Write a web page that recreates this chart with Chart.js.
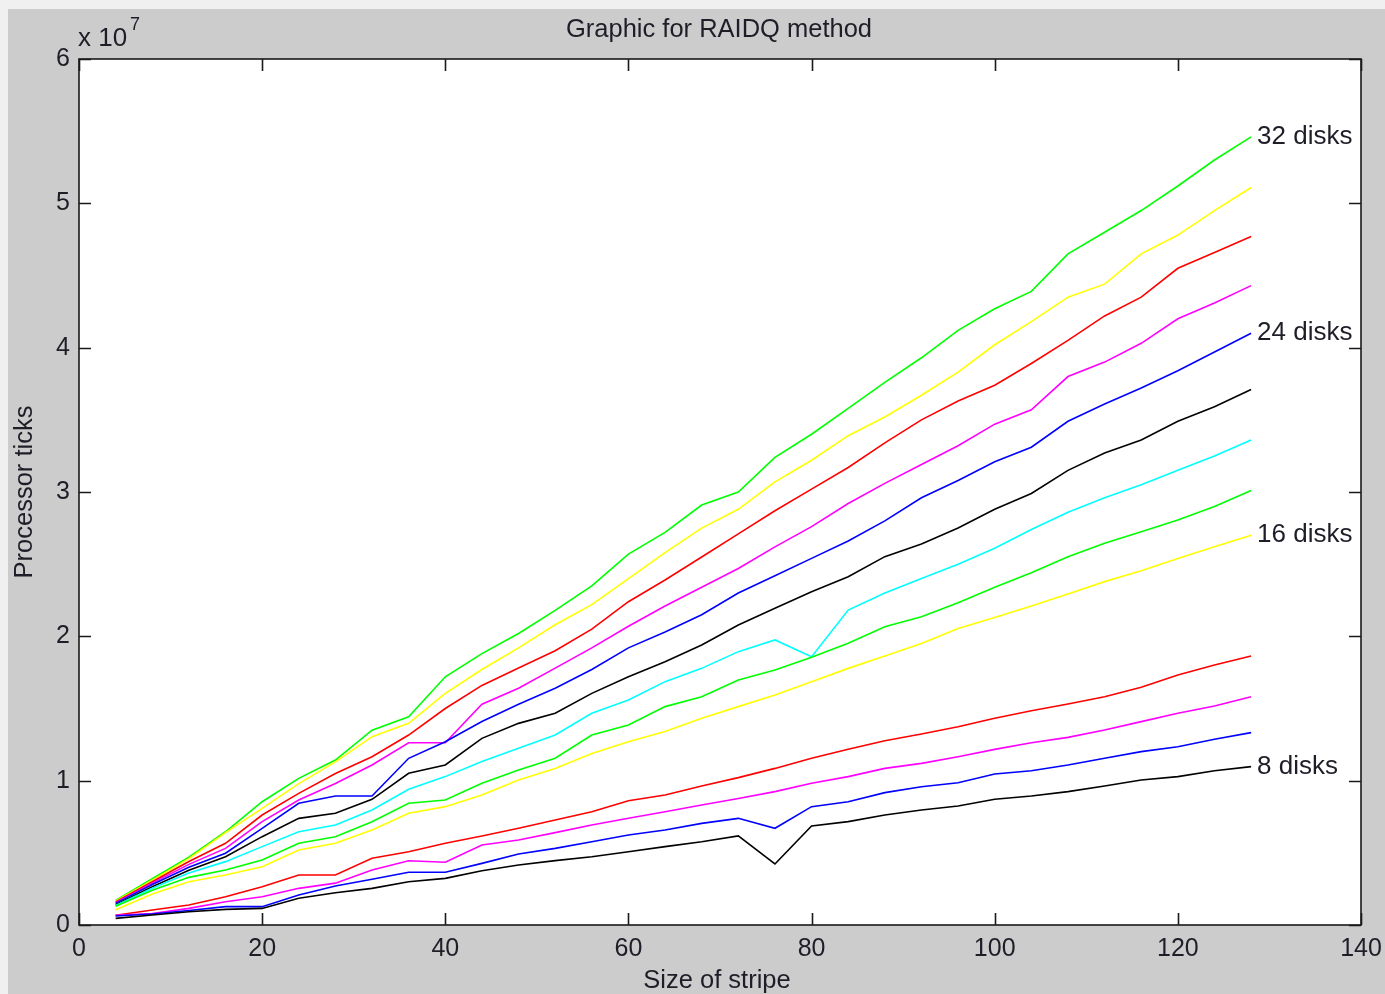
<!DOCTYPE html>
<html><head><meta charset="utf-8">
<script src="https://cdn.jsdelivr.net/npm/chart.js@4.4.1/dist/chart.umd.min.js"></script>
<style>
html,body{margin:0;padding:0;background:#f0f0f0;width:1385px;height:994px;overflow:hidden}
#panel{position:absolute;left:8px;top:9px;width:1377px;height:985px;background:#cccccc}
#c{position:absolute;left:0;top:0}
</style></head><body>
<div id="panel"></div>
<canvas id="c" width="1385" height="994"></canvas>
<script>
// ---- data (values in units of 10^7 processor ticks) ----
const stripeSizes = [4,8,12,16,20,24,28,32,36,40,44,48,52,56,60,64,68,72,76,80,84,88,92,96,100,104,108,112,116,120,124,128];
const disks8  = [0.046,0.069,0.092,0.108,0.115,0.185,0.224,0.254,0.300,0.323,0.376,0.416,0.446,0.473,0.508,0.543,0.577,0.617,0.423,0.686,0.716,0.762,0.797,0.824,0.871,0.894,0.924,0.963,1.005,1.028,1.069,1.097];
const disks10 = [0.062,0.076,0.100,0.127,0.127,0.208,0.270,0.317,0.365,0.365,0.427,0.492,0.531,0.577,0.624,0.658,0.704,0.739,0.670,0.820,0.854,0.917,0.958,0.986,1.046,1.069,1.109,1.155,1.201,1.235,1.287,1.333];
const disks12 = [0.067,0.080,0.115,0.161,0.196,0.254,0.290,0.381,0.445,0.435,0.554,0.589,0.640,0.693,0.739,0.785,0.831,0.877,0.924,0.982,1.028,1.085,1.120,1.166,1.217,1.263,1.300,1.351,1.409,1.467,1.517,1.582];
const disks14 = [0.067,0.104,0.139,0.196,0.265,0.346,0.346,0.462,0.508,0.566,0.617,0.670,0.727,0.785,0.861,0.901,0.963,1.021,1.085,1.155,1.217,1.277,1.323,1.374,1.432,1.485,1.531,1.582,1.647,1.732,1.801,1.864];
const disks16 = [0.105,0.215,0.300,0.346,0.404,0.520,0.566,0.658,0.774,0.820,0.901,1.005,1.085,1.189,1.270,1.340,1.432,1.513,1.594,1.686,1.778,1.864,1.950,2.055,2.130,2.210,2.293,2.379,2.455,2.540,2.620,2.700];
const disks18 = [0.130,0.240,0.330,0.381,0.450,0.566,0.612,0.716,0.843,0.866,0.982,1.074,1.155,1.316,1.386,1.513,1.582,1.698,1.767,1.855,1.952,2.067,2.136,2.233,2.340,2.440,2.552,2.645,2.725,2.806,2.900,3.010];
const disks20 = [0.135,0.255,0.360,0.439,0.543,0.646,0.693,0.797,0.940,1.028,1.132,1.224,1.316,1.467,1.559,1.686,1.778,1.894,1.975,1.859,2.182,2.300,2.400,2.500,2.610,2.740,2.860,2.960,3.050,3.150,3.250,3.360];
const disks22 = [0.140,0.265,0.380,0.473,0.612,0.739,0.774,0.871,1.051,1.109,1.293,1.397,1.467,1.605,1.720,1.824,1.940,2.079,2.194,2.309,2.413,2.552,2.640,2.750,2.880,2.990,3.150,3.270,3.360,3.490,3.590,3.710];
const disks24 = [0.150,0.280,0.400,0.497,0.670,0.843,0.894,0.894,1.155,1.270,1.410,1.530,1.640,1.770,1.920,2.030,2.150,2.300,2.420,2.540,2.660,2.800,2.960,3.080,3.210,3.310,3.490,3.610,3.720,3.840,3.970,4.100];
const disks26 = [0.155,0.290,0.420,0.531,0.716,0.866,0.980,1.109,1.263,1.263,1.530,1.640,1.780,1.920,2.070,2.210,2.340,2.470,2.620,2.760,2.920,3.060,3.190,3.320,3.470,3.570,3.800,3.900,4.030,4.200,4.310,4.430];
const disks28 = [0.160,0.300,0.440,0.566,0.762,0.912,1.050,1.166,1.316,1.500,1.660,1.780,1.900,2.050,2.240,2.390,2.550,2.710,2.870,3.020,3.170,3.340,3.500,3.630,3.740,3.890,4.050,4.220,4.350,4.550,4.660,4.770];
const disks30 = [0.165,0.310,0.460,0.640,0.808,0.980,1.130,1.305,1.397,1.605,1.770,1.920,2.080,2.220,2.400,2.580,2.750,2.880,3.070,3.220,3.390,3.520,3.670,3.830,4.020,4.180,4.350,4.440,4.650,4.780,4.950,5.110];
const disks32 = [0.170,0.320,0.470,0.646,0.854,1.016,1.143,1.350,1.443,1.720,1.880,2.020,2.180,2.350,2.570,2.720,2.910,3.000,3.240,3.400,3.580,3.760,3.930,4.120,4.270,4.390,4.650,4.800,4.950,5.120,5.300,5.460];

const seriesNames = ['8 disks','10 disks','12 disks','14 disks','16 disks','18 disks','20 disks','22 disks','24 disks','26 disks','28 disks','30 disks','32 disks'];
const seriesValues = [disks8,disks10,disks12,disks14,disks16,disks18,disks20,disks22,disks24,disks26,disks28,disks30,disks32];
const labeledSeries = ['8 disks','16 disks','24 disks','32 disks'];
const xTickValues = [0,20,40,60,80,100,120,140];
const yTickValues = [0,1,2,3,4,5,6];
const yExponent = '7';
const chartTitle = 'Graphic for RAIDQ method';
const xTitle = 'Size of stripe';
const yTitle = 'Processor ticks';

// ---- styles ----
const lineColors = ['#000000','#0000ff','#ff00ff','#ff0000','#ffff00','#00ff00','#00ffff','#000000','#0000ff','#ff00ff','#ff0000','#ffff00','#00ff00'];
const FONT = '"Liberation Sans", Arial, Helvetica, sans-serif';
const TEXT = '#1e1e28';

const datasets = seriesValues.map((vals, i) => ({
  label: seriesNames[i],
  data: vals.map((v, j) => ({x: stripeSizes[j], y: v})),
  borderColor: lineColors[i],
  backgroundColor: lineColors[i],
  borderWidth: 1.6,
  pointRadius: 0,
  tension: 0,
  fill: false
}));

const matlabFrame = {
  id: 'matlabFrame',
  beforeDatasetsDraw(chart) {
    const {ctx, chartArea: a} = chart;
    ctx.save();
    ctx.fillStyle = '#ffffff';
    ctx.fillRect(a.left, a.top, a.right - a.left, a.bottom - a.top);
    ctx.restore();
  },
  afterDraw(chart) {
    const {ctx, chartArea: a, scales} = chart;
    ctx.save();
    ctx.strokeStyle = '#1a1a1a';
    ctx.lineWidth = 1.6;
    ctx.strokeRect(a.left, a.top, a.right - a.left, a.bottom - a.top);
    const tl = 12;
    ctx.beginPath();
    xTickValues.forEach(v => {
      const px = Math.round(scales.x.getPixelForValue(v)) + 0.5;
      ctx.moveTo(px, a.bottom); ctx.lineTo(px, a.bottom - tl);
      ctx.moveTo(px, a.top); ctx.lineTo(px, a.top + tl);
    });
    yTickValues.forEach(v => {
      const py = Math.round(scales.y.getPixelForValue(v)) + 0.5;
      ctx.moveTo(a.left, py); ctx.lineTo(a.left + tl, py);
      ctx.moveTo(a.right, py); ctx.lineTo(a.right - tl, py);
    });
    ctx.stroke();

    ctx.fillStyle = TEXT;
    ctx.font = '25.5px ' + FONT;
    ctx.textAlign = 'center';
    ctx.textBaseline = 'middle';
    ctx.fillText(chartTitle, (a.left + a.right) / 2 - 1, 30);
    ctx.fillText(xTitle, (a.left + a.right) / 2 - 3, 981);
    ctx.save();
    ctx.translate(25, (a.top + a.bottom) / 2);
    ctx.rotate(-Math.PI / 2);
    ctx.fillText(yTitle, 0, 0);
    ctx.restore();
    ctx.textAlign = 'left';
    ctx.font = '26px ' + FONT;
    ctx.fillText('x 10', a.left - 1, 39);
    ctx.font = '18px ' + FONT;
    ctx.fillText(yExponent, a.left + 51, 25);
    ctx.font = '26px ' + FONT;
    datasets.forEach((ds, i) => {
      if (!labeledSeries.includes(ds.label)) return;
      const pts = chart.getDatasetMeta(i).data;
      const p = pts[pts.length - 1];
      ctx.fillText(ds.label, p.x + 6, p.y);
    });
    ctx.restore();
  }
};

new Chart(document.getElementById('c'), {
  type: 'line',
  data: {datasets},
  options: {
    responsive: false,
    animation: false,
    events: [],
    layout: {padding: {left: 0, top: 59, right: 24, bottom: 0}},
    plugins: {legend: {display: false}, tooltip: {enabled: false}, title: {display: false}},
    scales: {
      x: {
        type: 'linear', min: 0, max: 140,
        afterFit(s) { s.height = 69; s.paddingRight = 0; },
        afterBuildTicks(s) { s.ticks = xTickValues.map(v => ({value: v})); },
        grid: {display: false, drawTicks: false},
        border: {display: false},
        ticks: {font: {family: FONT, size: 25}, color: TEXT, padding: 9, maxRotation: 0, autoSkip: false}
      },
      y: {
        type: 'linear', min: 0, max: 6,
        afterFit(s) { s.width = 79; },
        afterBuildTicks(s) { s.ticks = yTickValues.map(v => ({value: v})); },
        grid: {display: false, drawTicks: false},
        border: {display: false},
        ticks: {font: {family: FONT, size: 25}, color: TEXT, padding: 9, autoSkip: false}
      }
    }
  },
  plugins: [matlabFrame]
});
</script>
</body></html>
